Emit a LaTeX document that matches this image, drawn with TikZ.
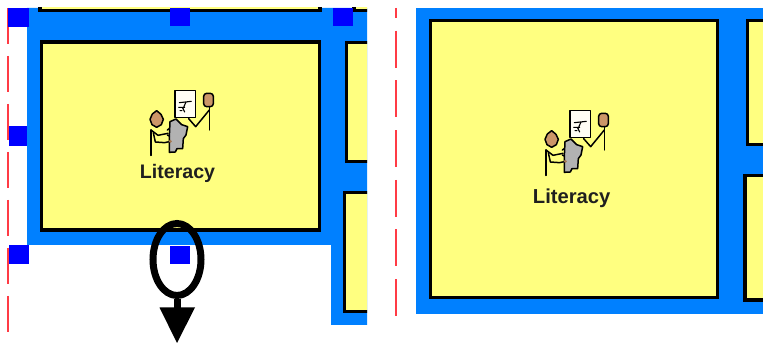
\documentclass[tikz,border=0pt]{standalone}
\usepackage{fontspec}
\usetikzlibrary{shapes.geometric}
\setmainfont{Liberation Sans}
\definecolor{panelblue}{HTML}{0080FF}
\definecolor{handle}{HTML}{0000FF}
\definecolor{cardyellow}{HTML}{FFFF80}
\definecolor{guide}{HTML}{FF3B45}
\definecolor{skin}{HTML}{CC9668}
\definecolor{paper}{HTML}{FFFDF4}
\definecolor{bookgrey}{HTML}{B2B2B2}
\tikzset{
  card/.style={fill=cardyellow,draw=black,line width=3.2pt,line join=miter},
  handlebox/.style={fill=handle,draw=none},
  guideline/.style={draw=guide,line width=2pt},
  iconline/.style={draw=black,line width=1.5pt,line join=round,line cap=round},
  icon/.pic={
    \begin{scope}[x=0.3333pt,y=-0.3333pt]
      \draw[iconline,fill=paper] (135,32) rectangle (197,112);
      \draw[iconline,line width=1.1pt] (148,68)--(184,64) (168,66)--(160,84) (146,82)--(164,82) (158,84)--(164,96) (150,92)--(156,92);
      \draw[iconline,fill=skin,rounded corners=3pt] (221,40) rectangle (250,80);
      \draw[iconline] (238,80)--(238,150);
      \draw[iconline] (238,90)--(197,140)--(176,116);
      \draw[iconline,fill=skin] (80,92)--(93,103)--(100,118)--(94,134)--(80,142)--(66,134)--(60,118)--(67,102)--cycle;
      \draw[iconline,line width=1.8pt] (62,150)--(62,226);
      \draw[iconline] (63,150)--(84,166)--(114,160);
      \draw[iconline] (70,158)--(76,186)--(104,188)--(122,184);
      \draw[iconline,fill=bookgrey] (120,125)--(138,117)--(155,134)--(173,140)--(168,165)--(160,176)--(158,206)--(141,206)--(136,216)--(118,217)--(118,170)--cycle;
      \draw[iconline] (112,150)--(118,146) (112,165)--(118,168);
      \fill[skin!80!black] (121,184) circle (5);
    \end{scope}
  },
  caption/.style={font=\bfseries\fontsize{19.6}{22}\selectfont,text=black!88,inner sep=0pt}
}
\begin{document}
\begin{tikzpicture}[x=1pt,y=-1pt]
\useasboundingbox (0,0) rectangle (763,344);
\fill[white] (0,0) rectangle (763,344);
% left panel
\fill[panelblue] (27,8) -- (367,8) -- (367,325) -- (331,325) -- (331,245) -- (27,245) -- cycle;
\begin{scope}
  \clip (0,8) rectangle (367,344);
  \draw[card] (40,0) rectangle (320,10.5);
  \draw[card] (354,0) rectangle (380,10.5);
  \draw[card] (41.5,42) rectangle (319.5,230);
  \draw[card] (346.5,42.5) rectangle (380,161.5);
  \draw[card] (344.5,192.5) rectangle (380,311.5);
\end{scope}
\draw[guideline,dash pattern=on 36pt off 12pt] (8,8) -- (8,333);
\fill[handlebox] (8,8) rectangle (29,27);
\fill[handlebox] (170,8) rectangle (190,26);
\fill[handlebox] (333,8) rectangle (353,26);
\fill[handlebox] (9,126) rectangle (27,146);
\fill[handlebox] (9,245) rectangle (29,264);
\fill[handlebox] (170,246) rectangle (190,264);
\pic at (130,80) {icon};
\node[caption] (textA) at (177.5,173.5) {Literacy};
% rotate marker
\node[draw=black,line width=7pt,ellipse,minimum width=48pt,minimum height=72pt,inner sep=0pt] (ringA) at (177,259.5) {};
\coordinate (tipA) at (177,343);
\coordinate (neckA) at (177,309);
\draw[black,line width=7pt] (ringA.south) -- (neckA);
\fill[black] (159.5,307.5) -- (195,307.5) -- (tipA) -- cycle;
% right panel
\fill[panelblue] (416,8) rectangle (763,314);
\begin{scope}
  \clip (380,8) rectangle (763,344);
  \draw[card] (430.5,20.5) rectangle (717.5,297.5);
  \draw[card] (747.5,20.5) rectangle (780,144.5);
  \draw[card] (745,175.5) rectangle (780,300);
\end{scope}
\draw[guideline,dash pattern=on 37pt off 12.7pt,dash phase=27pt] (396,8) -- (396,321);
\pic at (525,100) {icon};
\node[caption,font=\bfseries\fontsize{20.2}{22}\selectfont] (textB) at (571.7,198) {Literacy};
\end{tikzpicture}
\end{document}
